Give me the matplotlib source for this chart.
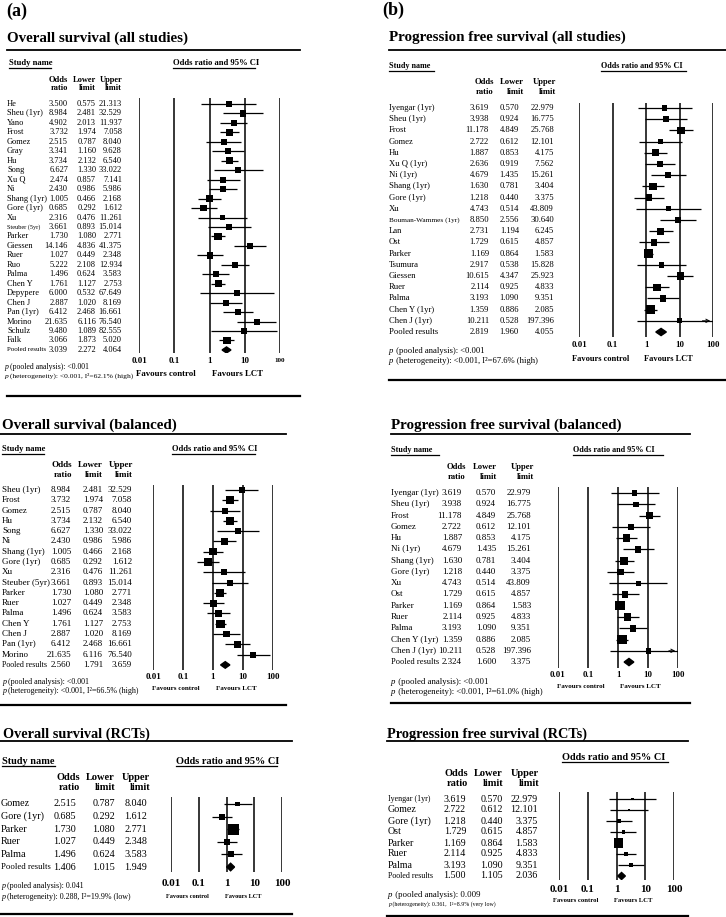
import matplotlib.pyplot as plt
import matplotlib.transforms as mtransforms
from matplotlib.lines import Line2D
import numpy as np

W, H = 726, 917
SERIF = ["Liberation Serif", "DejaVu Serif"]
TICKS = [0.01, 0.1, 1, 10, 100]
TICK_LABELS = ["0.01", "0.1", "1", "10", "100"]

# ---- Overall survival (all studies)
os_all_names = ["He", "Sheu (1yr)", "Yano", "Frost", "Gomez", "Gray", "Hu", "Song", "Xu Q", "Ni",
                "Shang (1yr)", "Gore (1yr)", "Xu", "Steuber (5yr)", "Parker", "Giessen", "Ruer",
                "Ruo", "Palma", "Chen Y", "Depypere", "Chen J", "Pan (1yr)", "Morino", "Schulz", "Falk"]
os_all_or = [3.500, 8.984, 4.902, 3.732, 2.515, 3.341, 3.734, 6.627, 2.474, 2.430, 1.005, 0.685, 2.316,
             3.661, 1.730, 14.146, 1.027, 5.222, 1.496, 1.761, 6.000, 2.887, 6.412, 21.635, 9.480, 3.066]
os_all_lo = [0.575, 2.481, 2.013, 1.974, 0.787, 1.160, 2.132, 1.330, 0.857, 0.986, 0.466, 0.292, 0.476,
             0.893, 1.080, 4.836, 0.449, 2.108, 0.624, 1.127, 0.532, 1.020, 2.468, 6.116, 1.089, 1.873]
os_all_hi = [21.313, 32.529, 11.937, 7.058, 8.040, 9.628, 6.540, 33.022, 7.141, 5.986, 2.168, 1.612, 11.261,
             15.014, 2.771, 41.375, 2.348, 12.934, 3.583, 2.753, 67.649, 8.169, 16.661, 76.540, 82.555, 5.020]
os_all_wt = [2.5, 2.5, 2.5, 3.6, 2.5, 2.5, 3.6, 2.5, 2.5, 2.5, 3.0, 3.0, 2.0, 2.5, 3.6, 2.5, 3.0,
             2.5, 2.5, 3.6, 2.0, 2.5, 2.5, 2.5, 2.0, 4.2]
os_all_pooled = [3.039, 2.272, 4.064]
os_all_p = ["<0.001", "<0.001, I²=62.1% (high)"]

# ---- Overall survival (balanced)
os_bal_names = ["Sheu (1yr)", "Frost", "Gomez", "Hu", "Song", "Ni", "Shang (1yr)", "Gore (1yr)", "Xu",
                "Steuber (5yr)", "Parker", "Ruer", "Palma", "Chen Y", "Chen J", "Pan (1yr)", "Morino"]
os_bal_or = [8.984, 3.732, 2.515, 3.734, 6.627, 2.430, 1.005, 0.685, 2.316, 3.661, 1.730, 1.027,
             1.496, 1.761, 2.887, 6.412, 21.635]
os_bal_lo = [2.481, 1.974, 0.787, 2.132, 1.330, 0.986, 0.466, 0.292, 0.476, 0.893, 1.080, 0.449,
             0.624, 1.127, 1.020, 2.468, 6.116]
os_bal_hi = [32.529, 7.058, 8.040, 6.540, 33.022, 5.986, 2.168, 1.612, 11.261, 15.014, 2.771, 2.348,
             3.583, 2.753, 8.169, 16.661, 76.540]
os_bal_wt = [2.5, 4.2, 2.5, 4.2, 2.5, 3.6, 3.6, 3.6, 2.5, 2.5, 4.2, 3.6, 3.6, 4.9, 3.0, 3.0, 2.5]
os_bal_pooled = [2.560, 1.791, 3.659]
os_bal_p = ["<0.001", "<0.001, I²=66.5% (high)"]

# ---- Overall survival (RCTs)
os_rct_names = ["Gomez", "Gore (1yr)", "Parker", "Ruer", "Palma"]
os_rct_or = [2.515, 0.685, 1.730, 1.027, 1.496]
os_rct_lo = [0.787, 0.292, 1.080, 0.449, 0.624]
os_rct_hi = [8.040, 1.612, 2.771, 2.348, 3.583]
os_rct_wt = [1.6, 2.5, 8.1, 2.5, 2.5]
os_rct_pooled = [1.406, 1.015, 1.949]
os_rct_p = ["0.041", "0.288, I²=19.9% (low)"]

# ---- Progression free survival (all studies)
pfs_all_names = ["Iyengar (1yr)", "Sheu (1yr)", "Frost", "Gomez", "Hu", "Xu Q (1yr)", "Ni (1yr)",
                 "Shang (1yr)", "Gore (1yr)", "Xu", "Bouman-Wammes (1yr)", "Lan", "Ost", "Parker",
                 "Tsumura", "Giessen", "Ruer", "Palma", "Chen Y (1yr)", "Chen J (1yr)"]
pfs_all_or = [3.619, 3.938, 11.178, 2.722, 1.887, 2.636, 4.679, 1.630, 1.218, 4.743, 8.850, 2.731,
              1.729, 1.169, 2.917, 10.615, 2.114, 3.193, 1.359, 10.211]
pfs_all_lo = [0.570, 0.924, 4.849, 0.612, 0.853, 0.919, 1.435, 0.781, 0.440, 0.514, 2.556, 1.194,
              0.615, 0.864, 0.538, 4.347, 0.925, 1.090, 0.886, 0.528]
pfs_all_hi = [22.979, 16.775, 25.768, 12.101, 4.175, 7.562, 15.261, 3.404, 3.375, 43.809, 30.640, 6.245,
              4.857, 1.583, 15.828, 25.923, 4.833, 9.351, 2.085, 197.396]
pfs_all_wt = [2.0, 2.0, 3.6, 2.0, 3.6, 3.0, 2.5, 3.6, 3.0, 1.6, 2.5, 3.0, 3.0, 4.9, 2.0, 3.6, 3.6,
              3.0, 4.9, 1.6]
pfs_all_pooled = [2.819, 1.960, 4.055]
pfs_all_p = ["<0.001", "<0.001, I²=67.6% (high)"]

# ---- Progression free survival (balanced)
pfs_bal_names = ["Iyengar (1yr)", "Sheu (1yr)", "Frost", "Gomez", "Hu", "Ni (1yr)", "Shang (1yr)",
                 "Gore (1yr)", "Xu", "Ost", "Parker", "Ruer", "Palma", "Chen Y (1yr)", "Chen J (1yr)"]
pfs_bal_or = [3.619, 3.938, 11.178, 2.722, 1.887, 4.679, 1.630, 1.218, 4.743, 1.729, 1.169, 2.114,
              3.193, 1.359, 10.211]
pfs_bal_lo = [0.570, 0.924, 4.849, 0.612, 0.853, 1.435, 0.781, 0.440, 0.514, 0.615, 0.864, 0.925,
              1.090, 0.886, 0.528]
pfs_bal_hi = [22.979, 16.775, 25.768, 12.101, 4.175, 15.261, 3.404, 3.375, 43.809, 4.857, 1.583, 4.833,
              9.351, 2.085, 197.396]
pfs_bal_wt = [2.0, 2.0, 3.6, 2.0, 3.6, 3.0, 4.2, 3.0, 1.6, 3.0, 5.6, 3.6, 3.0, 5.6, 2.0]
pfs_bal_pooled = [2.324, 1.600, 3.375]
pfs_bal_p = ["<0.001", "<0.001, I²=61.0% (high)"]

# ---- Progression free survival (RCTs)
pfs_rct_names = ["Iyengar (1yr)", "Gomez", "Gore (1yr)", "Ost", "Parker", "Ruer", "Palma"]
pfs_rct_or = [3.619, 2.722, 1.218, 1.729, 1.169, 2.114, 3.193]
pfs_rct_lo = [0.570, 0.612, 0.440, 0.615, 0.864, 0.925, 1.090]
pfs_rct_hi = [22.979, 12.101, 3.375, 4.857, 1.583, 4.833, 9.351]
pfs_rct_wt = [0.6, 0.6, 1.2, 0.9, 6.4, 1.2, 0.9]
pfs_rct_pooled = [1.500, 1.105, 2.036]
pfs_rct_p = ["0.009", "0.361,  I²=8.9% (very low)"]


def fx(x):
    return x / W


def fy(y):
    return 1 - y / H


def rule(fig, x0, x1, y, lw=1.3, color="black"):
    fig.add_artist(Line2D([fx(x0), fx(x1)], [fy(y), fy(y)], lw=lw, color=color,
                          transform=fig.transFigure))


def put(fig, x, y, s, size, ha="left", weight="normal", **kw):
    return fig.text(fx(x), fy(y), s, ha=ha, va="center", fontsize=size, fontweight=weight,
                    family=SERIF, **kw)


def p_line(fig, x, y, rest, size):
    # italic "p" followed by plain text placed right after it
    t = fig.text(fx(x), fy(y), "p", ha="left", va="baseline", fontsize=size, style="italic",
                 family=SERIF)
    fig.text(fx(x + size * 0.75), fy(y), " " + rest, ha="left", va="baseline",
             fontsize=size, family=SERIF)
    return t


def draw_panel(fig, lay, names, odds, lower, upper, weights, pooled, p_vals):
    y0, dy = lay["y0"], lay["dy"]
    top, bot = lay["top"], lay["bot"]
    xa, xb = lay["xaxis"]
    ax = fig.add_axes([fx(xa), fy(bot), (xb - xa) / W, (bot - top) / H])
    ax.set_xscale("log")
    ax.set_xlim(0.01, 100)
    ax.set_ylim((bot - y0) / dy, (top - y0) / dy)
    ax.axis("off")
    for v in TICKS:
        ax.axvline(v, color="black", lw=1.1)

    rows = np.arange(len(names))
    hi_clip = np.minimum(upper, 100)
    ax.hlines(rows, lower, hi_clip, color="black", lw=0.9)
    for r, hi in zip(rows, upper):
        if hi > 100:
            ax.annotate("", xy=(100, r), xytext=(40, r),
                        arrowprops=dict(arrowstyle="->", lw=0.7, color="black",
                                        mutation_scale=6))
    side_pt = 3.16 * np.sqrt(weights) * 0.72 * lay.get("box", 1.22)
    ax.scatter(odds, rows, marker="s", s=side_pt ** 2, color="black", zorder=3, linewidths=0)

    pr = len(names)
    po, pl, ph = pooled
    half = lay.get("dia", 0.32)
    ax.fill([pl, po, ph, po], [pr, pr - half, pr, pr + half], color="black", zorder=3)

    # table text, rows follow the axes' y scale
    tr = mtransforms.blended_transform_factory(fig.transFigure, ax.transData)
    fs = lay["fs"]
    nx = lay["name_x"]
    cx = lay["cols"]
    small = lay.get("small", {})
    for r, name in enumerate(list(names) + ["Pooled results"]):
        size = small.get(name, fs)
        ax.text(fx(nx), r, name, transform=tr, ha="left", va="center", fontsize=size,
                family=SERIF, clip_on=False)
    vals = list(zip(odds, lower, upper)) + [tuple(pooled)]
    for r, trio in enumerate(vals):
        for x, v in zip(cx, trio):
            ax.text(fx(x), r, f"{v:.3f}", transform=tr, ha="right", va="center", fontsize=fs,
                    family=SERIF, clip_on=False)

    # tick labels follow the log x scale
    trx = mtransforms.blended_transform_factory(ax.transData, fig.transFigure)
    for v, lab in zip(TICKS, TICK_LABELS):
        size = lay["tick_fs"]
        if v == 100 and "tick100" in lay:
            size = lay["tick100"]
        ax.text(v, fy(lay["tick_y"]), lab, transform=trx, ha="center", va="center",
                fontsize=size, fontweight="bold", family=SERIF)

    # headers
    hx = lay["head_cols"]
    h1, h2 = lay["head_y"]
    hfs = lay["head_fs"]
    for x, a, b in zip(hx, ["Odds", "Lower", "Upper"], ["ratio", "limit", "limit"]):
        put(fig, x, h1, a, hfs, ha="right", weight="bold")
        put(fig, x, h2, b, hfs, ha="right", weight="bold")

    # section labels
    sfs = lay["sec_fs"]
    if "study" in lay:
        sx, sy, sx2 = lay["study"]
        put(fig, sx, sy, "Study name", sfs, weight="bold")
        rule(fig, sx, sx2, sy + 5, lw=0.9)
    ox, oy, ox2 = lay["orci"]
    put(fig, ox, oy, "Odds ratio and 95% CI", sfs, weight="bold")
    rule(fig, ox, ox2, oy + 5, lw=0.9)

    cxp, lxp, fyp = lay["fav"]
    ffs = lay["fav_fs"]
    put(fig, cxp, fyp, "Favours control", ffs, ha="center", weight="bold")
    put(fig, lxp, fyp, "Favours LCT", ffs, ha="center", weight="bold")

    px_, p1, p2 = lay["p"]
    pfs1, pfs2 = lay["p_fs"]
    p_line(fig, px_, p1, "(pooled analysis): " + p_vals[0], pfs1)
    p_line(fig, px_, p2, "(heterogeneity): " + p_vals[1], pfs2)

    tx, ty, tline = lay["title"]
    put(fig, tx, ty, lay["title_text"], lay["title_fs"], weight="bold")
    rule(fig, tline[0], tline[1], tline[2], lw=1.3)
    sx0, sx1, syy = lay["sep"]
    rule(fig, sx0, sx1, syy, lw=1.6)


fig = plt.figure(figsize=(W / 100, H / 100), dpi=100)
fig.patch.set_facecolor("white")

put(fig, 6, 11, "(a)", 13, weight="bold")
put(fig, 382, 10, "(b)", 13, weight="bold")

layouts = [
    dict(title_text="Overall survival (all studies)", title=(7, 38.5, (7, 300, 50)), title_fs=10.8,
         y0=104, dy=9.46, top=98, bot=353, xaxis=(139, 280), fs=6.0,
         small={"Steuber (5yr)": 4.5, "Pooled results": 5.0},
         name_x=7, cols=(68, 96, 122), head_cols=(68, 96, 122), head_y=(80, 88), head_fs=6.0,
         study=(9, 63, 51), orci=(173, 63, 255), sec_fs=6.2,
         tick_y=361, tick_fs=6.5, tick100=5.0, fav=(166, 237, 374), fav_fs=6.3,
         p=(4, 369, 378), p_fs=(5.6, 5.4), sep=(7, 300, 396)),
    dict(title_text="Overall survival (balanced)", title=(2, 425, (0, 286, 434)), title_fs=10.8,
         y0=490, dy=10.29, top=485, bot=670, xaxis=(153, 273), fs=6.5,
         small={"Pooled results": 5.8},
         name_x=2, cols=(71, 103, 132), head_cols=(72, 103, 133), head_y=(465, 475), head_fs=6.5,
         study=(2, 449, 44), orci=(172, 449, 255), sec_fs=6.1,
         tick_y=677, tick_fs=6.5, fav=(176, 236, 689), fav_fs=5.0,
         p=(2, 684, 693), p_fs=(5.8, 5.8), sep=(0, 286, 705)),
    dict(title_text="Overall survival (RCTs)", title=(3, 734, (0, 292, 741)), title_fs=10.3,
         y0=804, dy=12.6, top=797, bot=872, xaxis=(171, 282), fs=7.3,
         small={"Pooled results": 6.3},
         name_x=1, cols=(76, 115, 147), head_cols=(80, 115, 150), head_y=(777, 788), head_fs=7.5,
         study=(2, 761, 55), orci=(176, 761, 277), sec_fs=7.4,
         tick_y=883, tick_fs=8.0, fav=(187, 243, 897), fav_fs=4.6,
         p=(1, 888, 899), p_fs=(5.8, 5.8), sep=(0, 292, 914), dia=0.3),
    dict(title_text="Progression free survival (all studies)", title=(389, 37.5, (389, 726, 50)),
         title_fs=10.8,
         y0=108, dy=11.2, top=103, bot=337, xaxis=(579, 713), fs=6.2,
         small={"Bouman-Wammes (1yr)": 5.2},
         name_x=389, cols=(489, 519, 554), head_cols=(494, 524, 556), head_y=(82, 92), head_fs=6.2,
         study=(389, 66, 434), orci=(601, 66, 686), sec_fs=5.9,
         tick_y=345, tick_fs=6.3, fav=(601, 668, 359), fav_fs=6.0,
         p=(389, 353, 363), p_fs=(6.2, 6.2), sep=(389, 726, 380)),
    dict(title_text="Progression free survival (balanced)", title=(391, 425, (391, 690, 434)),
         title_fs=10.8,
         y0=493, dy=11.27, top=487, bot=668, xaxis=(558, 678), fs=6.5,
         small={"Pooled results": 6.0},
         name_x=391, cols=(462, 496, 531), head_cols=(466, 497, 534), head_y=(467, 477), head_fs=6.2,
         study=(391, 450, 439), orci=(573, 450, 663), sec_fs=5.9,
         tick_y=675, tick_fs=6.3, fav=(581, 640, 686), fav_fs=5.0,
         p=(391, 684, 694), p_fs=(6.3, 6.3), sep=(391, 690, 703)),
    dict(title_text="Progression free survival (RCTs)", title=(387, 734, (387, 688, 741)),
         title_fs=10.3,
         y0=799, dy=11.0, top=792, bot=880, xaxis=(559, 674), fs=7.2,
         small={"Iyengar (1yr)": 5.8, "Pooled results": 5.8},
         name_x=388, cols=(466, 503, 538), head_cols=(468, 503, 539), head_y=(773, 783), head_fs=7.5,
         orci=(562, 757, 668), sec_fs=7.4,
         tick_y=890, tick_fs=8.0, fav=(576, 633, 901), fav_fs=4.8,
         p=(388, 897, 906), p_fs=(6.3, 4.2), sep=(387, 688, 916)),
]

series = [
    (os_all_names, os_all_or, os_all_lo, os_all_hi, os_all_wt, os_all_pooled, os_all_p),
    (os_bal_names, os_bal_or, os_bal_lo, os_bal_hi, os_bal_wt, os_bal_pooled, os_bal_p),
    (os_rct_names, os_rct_or, os_rct_lo, os_rct_hi, os_rct_wt, os_rct_pooled, os_rct_p),
    (pfs_all_names, pfs_all_or, pfs_all_lo, pfs_all_hi, pfs_all_wt, pfs_all_pooled, pfs_all_p),
    (pfs_bal_names, pfs_bal_or, pfs_bal_lo, pfs_bal_hi, pfs_bal_wt, pfs_bal_pooled, pfs_bal_p),
    (pfs_rct_names, pfs_rct_or, pfs_rct_lo, pfs_rct_hi, pfs_rct_wt, pfs_rct_pooled, pfs_rct_p),
]

for lay, s in zip(layouts, series):
    names, o, lo, hi, wt, pooled, pv = s
    draw_panel(fig, lay, names, np.array(o), np.array(lo), np.array(hi), np.array(wt), pooled, pv)

fig.savefig("out.png", dpi=100, facecolor="white")
